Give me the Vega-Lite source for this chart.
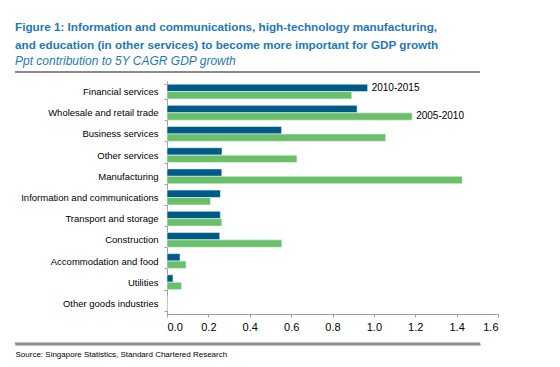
{
  "$schema": "https://vega.github.io/schema/vega-lite/v6.json",
  "autosize": "none",
  "width": 465,
  "height": 272,
  "padding": {"left": 15, "top": 72, "right": 80, "bottom": 23},
  "background": "white",
  "config": {"view": {"stroke": null}, "font": "Liberation Sans"},
  "title": {
    "text": ["Figure 1: Information and communications, high-technology manufacturing,", "and education (in other services) to become more important for GDP growth"],
    "subtitle": "Ppt contribution to 5Y CAGR GDP growth",
    "anchor": "start",
    "frame": "group",
    "offset": 0,
    "font": "Liberation Sans",
    "fontSize": 11.7,
    "fontWeight": "bold",
    "color": "#1E78B8",
    "lineHeight": 18,
    "subtitleFont": "Liberation Sans",
    "subtitleFontSize": 12,
    "subtitleFontStyle": "italic",
    "subtitleColor": "#1E78B8",
    "subtitlePadding": 4
  },
  "datasets": {
    "bars": [
      {"category": "Financial services", "period": "2010-2015", "value": 0.97, "note": "2010-2015"},
      {"category": "Financial services", "period": "2005-2010", "value": 0.893, "note": ""},
      {"category": "Wholesale and retail trade", "period": "2010-2015", "value": 0.919, "note": ""},
      {"category": "Wholesale and retail trade", "period": "2005-2010", "value": 1.185, "note": "2005-2010"},
      {"category": "Business services", "period": "2010-2015", "value": 0.554, "note": ""},
      {"category": "Business services", "period": "2005-2010", "value": 1.057, "note": ""},
      {"category": "Other services", "period": "2010-2015", "value": 0.266, "note": ""},
      {"category": "Other services", "period": "2005-2010", "value": 0.628, "note": ""},
      {"category": "Manufacturing", "period": "2010-2015", "value": 0.265, "note": ""},
      {"category": "Manufacturing", "period": "2005-2010", "value": 1.427, "note": ""},
      {"category": "Information and communications", "period": "2010-2015", "value": 0.258, "note": ""},
      {"category": "Information and communications", "period": "2005-2010", "value": 0.21, "note": ""},
      {"category": "Transport and storage", "period": "2010-2015", "value": 0.258, "note": ""},
      {"category": "Transport and storage", "period": "2005-2010", "value": 0.265, "note": ""},
      {"category": "Construction", "period": "2010-2015", "value": 0.255, "note": ""},
      {"category": "Construction", "period": "2005-2010", "value": 0.555, "note": ""},
      {"category": "Accommodation and food", "period": "2010-2015", "value": 0.063, "note": ""},
      {"category": "Accommodation and food", "period": "2005-2010", "value": 0.092, "note": ""},
      {"category": "Utilities", "period": "2010-2015", "value": 0.029, "note": ""},
      {"category": "Utilities", "period": "2005-2010", "value": 0.07, "note": ""},
      {"category": "Other goods industries", "period": "2010-2015", "value": 0.003, "note": ""},
      {"category": "Other goods industries", "period": "2005-2010", "value": 0.0, "note": ""}
    ],
    "separators": [
      {"start": 0, "end": 1, "pos": 1},
      {"start": 0, "end": 1, "pos": 0.002}
    ]
  },
  "layer": [
    {
      "data": {"name": "separators"},
      "mark": {"type": "rule", "color": "#8a8a8a", "strokeWidth": 2, "clip": false},
      "encoding": {
        "x": {"field": "start", "type": "quantitative", "scale": {"domain": [0, 1], "nice": false},
              "axis": {"orient": "bottom", "title": null, "labels": false, "ticks": false, "grid": false, "domain": true, "domainColor": "#8a8a8a", "domainWidth": 2}},
        "x2": {"field": "end"},
        "y": {"field": "pos", "type": "quantitative", "scale": {"domain": [0, 1], "nice": false, "zero": false}, "axis": null}
      }
    },
    {
      "data": {"name": "bars"},
      "layer": [
        {
          "mark": {"type": "bar", "stroke": "#e8f4f0", "strokeWidth": 0.6},
          "encoding": {
            "y": {
              "field": "category", "type": "nominal",
              "sort": ["Financial services", "Wholesale and retail trade", "Business services", "Other services", "Manufacturing", "Information and communications", "Transport and storage", "Construction", "Accommodation and food", "Utilities", "Other goods industries"],
              "scale": {"paddingInner": 0.3, "paddingOuter": 0.15, "range": [9, 242]},
              "axis": {"title": null, "offset": -152, "tickBand": "extent", "domainColor": "#a0a0a0", "tickColor": "#a0a0a0", "tickSize": 3, "labelPadding": 6, "labelFontSize": 9.5, "labelColor": "#000000", "labelFont": "Liberation Sans"}
            },
            "yOffset": {"field": "period", "type": "nominal", "sort": ["2010-2015", "2005-2010"]},
            "x": {
              "field": "value", "type": "quantitative",
              "scale": {"domain": [0, 1.6], "nice": false, "range": [152, 483]},
              "axis": {
                "orient": "bottom",
                "title": "Source: Singapore Statistics, Standard Chartered Research",
                "offset": -30,
                "titleFontSize": 8, "titleFontWeight": "normal", "titleColor": "#000000", "titleFont": "Liberation Sans",
                "titleX": 0, "titleY": 42.5, "titleAlign": "left", "titleAnchor": "start", "titleBaseline": "alphabetic",
                "format": ".1f", "values": [0, 0.2, 0.4, 0.6, 0.8, 1.0, 1.2, 1.4, 1.6],
                "grid": false, "domainColor": "#a0a0a0", "tickColor": "#a0a0a0", "tickSize": 3, "labelPadding": 4,
                "labelFontSize": 11, "labelColor": "#000000", "labelFont": "Liberation Sans"
              }
            },
            "color": {"field": "period", "type": "nominal", "scale": {"domain": ["2010-2015", "2005-2010"], "range": ["#005A87", "#6CBF6A"]}, "legend": null}
          }
        },
        {
          "transform": [{"filter": "datum.note != ''"}],
          "mark": {"type": "text", "align": "left", "baseline": "middle", "dx": 4, "fontSize": 10, "font": "Liberation Sans", "color": "#000000"},
          "encoding": {
            "y": {"field": "category", "type": "nominal", "sort": ["Financial services", "Wholesale and retail trade", "Business services", "Other services", "Manufacturing", "Information and communications", "Transport and storage", "Construction", "Accommodation and food", "Utilities", "Other goods industries"]},
            "yOffset": {"field": "period", "type": "nominal", "sort": ["2010-2015", "2005-2010"]},
            "x": {"field": "value", "type": "quantitative"},
            "text": {"field": "note"}
          }
        }
      ]
    }
  ],
  "resolve": {"scale": {"x": "independent", "y": "independent"}}
}
